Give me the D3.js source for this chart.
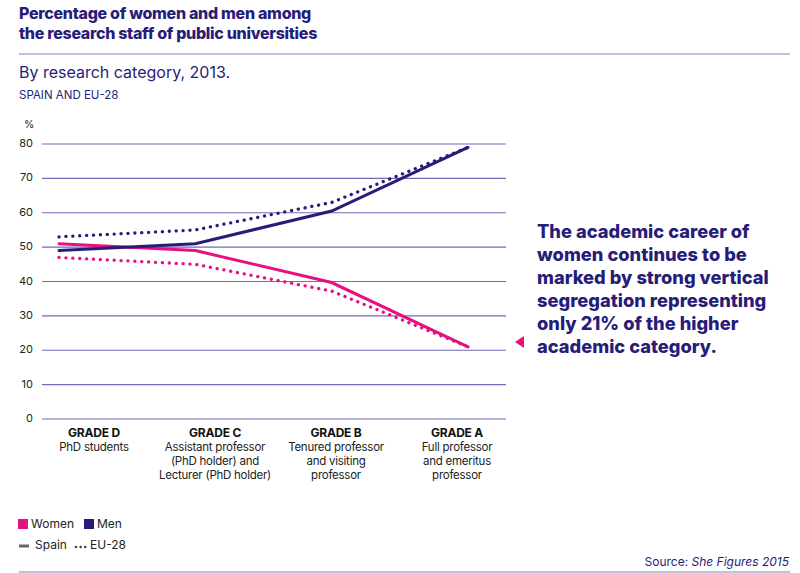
<!DOCTYPE html>
<html>
<head>
<meta charset="utf-8">
<script src="https://cdn.jsdelivr.net/npm/d3@7"></script>
<style>
  body { margin: 0; background: #fff; }
  text { font-family: "Inter", "Liberation Sans", sans-serif; }
</style>
</head>
<body>
<div id="chart"></div>
<script>
// data
const grades = ["GRADE D", "GRADE C", "GRADE B", "GRADE A"];
const gradeDesc = [
  ["PhD students"],
  ["Assistant professor", "(PhD holder) and", "Lecturer (PhD holder)"],
  ["Tenured professor", "and visiting", "professor"],
  ["Full professor", "and emeritus", "professor"]
];
const womenSpain = [51, 49, 39.7, 21];
const menSpain   = [49, 51, 60.5, 79];
const womenEU    = [47, 45, 37.2, 21];
const menEU      = [53, 55, 63, 79];
const yTicks = [0, 10, 20, 30, 40, 50, 60, 70, 80];

const navy = "#271d78", pink = "#e6117f", grid = "#7369bd", rule = "#c3bfdf";

const W = 800, H = 573;
const svg = d3.select("#chart").append("svg")
  .attr("width", W).attr("height", H);

// header
svg.append("text").attr("x", 19).attr("y", 19)
  .attr("font-size", 16).attr("font-weight", 800).attr("fill", navy)
  .attr("letter-spacing", -0.3)
  .text("Percentage of women and men among");
svg.append("text").attr("x", 19).attr("y", 39)
  .attr("font-size", 16).attr("font-weight", 800).attr("fill", navy)
  .attr("letter-spacing", -0.3)
  .text("the research staff of public universities");
svg.append("line").attr("x1", 19).attr("x2", 790).attr("y1", 54).attr("y2", 54)
  .attr("stroke", rule).attr("stroke-width", 2);
svg.append("text").attr("x", 19).attr("y", 78)
  .attr("font-size", 16).attr("fill", navy).text("By research category, 2013.");
svg.append("text").attr("x", 19).attr("y", 99)
  .attr("font-size", 11.5).attr("fill", navy).text("SPAIN AND EU-28");

// scales
const x = d3.scalePoint().domain(grades).range([59, 468]);
const xLabel = d3.scalePoint().domain(grades).range([94, 457]);
const y = d3.scaleLinear().domain([0, 80]).range([419, 144]);

svg.append("text").attr("x", 24).attr("y", 128)
  .attr("font-size", 10.5).attr("fill", "#222").text("%");

// grid + y labels
svg.append("g").selectAll("line").data(yTicks).join("line")
  .attr("x1", 42).attr("x2", 506)
  .attr("y1", d => y(d)).attr("y2", d => y(d))
  .attr("stroke", grid).attr("stroke-width", 1.2);
svg.append("g").selectAll("text").data(yTicks).join("text")
  .attr("x", 33).attr("y", d => y(d) + 3)
  .attr("text-anchor", "end").attr("font-size", 11).attr("fill", "#222")
  .text(d => d);

// lines
const line = d3.line().x((d, i) => x(grades[i])).y(d => y(d));
const series = [
  {v: womenEU, c: pink, dots: true},
  {v: menEU, c: navy, dots: true},
  {v: womenSpain, c: pink, dots: false},
  {v: menSpain, c: navy, dots: false}
];
svg.append("g").selectAll("path").data(series).join("path")
  .attr("d", d => line(d.v))
  .attr("fill", "none")
  .attr("stroke", d => d.c)
  .attr("stroke-width", d => d.dots ? 3.3 : 3)
  .attr("stroke-linecap", "round")
  .attr("stroke-dasharray", d => d.dots ? "0.1 6.8" : null);

// category labels
const cat = svg.append("g").selectAll("g").data(grades).join("g")
  .attr("transform", d => `translate(${xLabel(d)},0)`);
cat.append("text").attr("y", 437).attr("text-anchor", "middle")
  .attr("font-size", 12).attr("font-weight", 700).attr("fill", "#111")
  .attr("letter-spacing", -0.2)
  .text(d => d);
cat.each(function(d, i) {
  d3.select(this).selectAll("text.desc").data(gradeDesc[i]).join("text")
    .attr("class", "desc")
    .attr("y", (t, j) => 451 + j * 14)
    .attr("text-anchor", "middle").attr("font-size", 11.5).attr("fill", "#222")
    .attr("letter-spacing", -0.25)
    .text(t => t);
});

// annotation
const note = ["The academic career of", "women continues to be", "marked by strong vertical",
  "segregation representing", "only 21% of the higher", "academic category."];
svg.append("g").selectAll("text").data(note).join("text")
  .attr("x", 537).attr("y", (d, i) => 238 + i * 23)
  .attr("font-size", 18.3).attr("font-weight", 800).attr("fill", navy)
  .text(d => d);
svg.append("path").attr("d", "M515,342 L524,336 L524,348 Z").attr("fill", pink);

// legend
const lg = svg.append("g");
lg.append("rect").attr("x", 18).attr("y", 519).attr("width", 10).attr("height", 10).attr("fill", pink);
lg.append("text").attr("x", 31).attr("y", 528).attr("font-size", 12).attr("fill", "#222").text("Women");
lg.append("rect").attr("x", 84).attr("y", 519).attr("width", 10).attr("height", 10).attr("fill", navy);
lg.append("text").attr("x", 97).attr("y", 528).attr("font-size", 12).attr("fill", "#222").text("Men");
lg.append("line").attr("x1", 19).attr("x2", 29).attr("y1", 546).attr("y2", 546)
  .attr("stroke", "#666").attr("stroke-width", 3);
lg.append("text").attr("x", 35).attr("y", 549).attr("font-size", 12).attr("fill", "#222").text("Spain");
lg.append("line").attr("x1", 76).attr("x2", 86).attr("y1", 547).attr("y2", 547)
  .attr("stroke", "#444").attr("stroke-width", 2.5).attr("stroke-linecap", "round")
  .attr("stroke-dasharray", "0.1 4.5");
lg.append("text").attr("x", 90).attr("y", 549).attr("font-size", 12).attr("fill", "#222").text("EU-28");

// source + rule
const src = svg.append("text").attr("x", 789).attr("y", 566).attr("text-anchor", "end")
  .attr("font-size", 12).attr("fill", navy);
src.append("tspan").text("Source: ");
src.append("tspan").attr("font-style", "italic").text("She Figures 2015");
svg.append("line").attr("x1", 19).attr("x2", 790).attr("y1", 572).attr("y2", 572)
  .attr("stroke", rule).attr("stroke-width", 2);
</script>
</body>
</html>
